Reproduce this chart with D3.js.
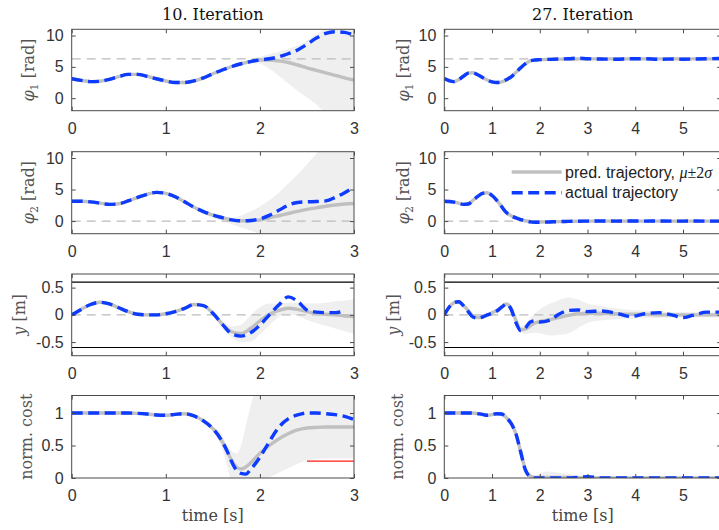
<!DOCTYPE html>
<html><head><meta charset="utf-8">
<script src="https://cdn.jsdelivr.net/npm/d3@7"></script>
<style>body{margin:0;background:#fff} svg{display:block}</style>
</head><body><svg id="c" width="719" height="530"></svg>
<script>
// ---------- time grids ----------
const tL  = [0,0.1,0.2,0.3,0.4,0.5,0.6,0.7,0.8,0.9,1.0,1.1,1.2,1.3,1.4,1.5,1.6,1.7,1.8,1.9,2.0,2.1,2.2,2.3,2.4,2.5,2.6,2.7,2.8,2.9,3.0];
const t4L = [0,0.1,0.2,0.3,0.4,0.5,0.6,0.7,0.8,0.9,1.0,1.1,1.2,1.3,1.4,1.5,1.6,1.65,1.7,1.75,1.8,1.85,1.9,2.0,2.1,2.2,2.3,2.4,2.5,2.6,2.7,2.8,2.9,3.0];
const tR  = [0,0.1,0.2,0.3,0.4,0.5,0.6,0.7,0.8,0.9,1.0,1.1,1.2,1.3,1.4,1.5,1.6,1.7,1.8,1.9,2.0,2.2,2.4,2.6,2.8,3.0,3.3,3.6,3.9,4.2,4.5,4.8,5.0,5.2,5.5,5.8];

// ---------- 10. Iteration ----------
const phi1_10_mean = [3.1,2.85,2.65,2.7,3.0,3.45,3.8,3.8,3.5,3.1,2.75,2.5,2.5,2.75,3.25,3.9,4.5,5.05,5.5,5.85,6.1,6.1,5.95,5.7,5.3,4.85,4.45,4.05,3.65,3.25,2.9];
const phi1_10_act  = [3.1,2.85,2.65,2.7,3.0,3.45,3.8,3.8,3.5,3.1,2.75,2.5,2.5,2.75,3.25,3.9,4.5,5.05,5.5,5.85,6.1,6.3,6.6,7.1,7.7,8.6,9.6,10.35,10.6,10.5,10.05];
const phi1_10_lo   = [2.95,2.7,2.5,2.55,2.85,3.3,3.65,3.65,3.35,2.95,2.6,2.35,2.35,2.6,3.1,3.75,4.35,4.85,5.25,5.55,5.5,4.7,3.6,2.4,1.2,0.1,-1.0,-2.5,-4,-5,-6];
const phi1_10_hi   = [3.25,3.0,2.8,2.85,3.15,3.6,3.95,3.95,3.65,3.25,2.9,2.65,2.65,2.9,3.4,4.05,4.65,5.25,5.75,6.15,6.6,7.0,7.4,7.9,8.4,9.2,10.2,11.2,12,12.5,13];

const phi2_10_mean = [3.15,3.15,3.05,2.85,2.65,2.75,3.2,3.75,4.25,4.55,4.4,3.85,3.05,2.2,1.5,0.95,0.55,0.2,0.05,0.05,0.2,0.5,0.85,1.2,1.55,1.85,2.1,2.35,2.55,2.7,2.8];
const phi2_10_act  = [3.15,3.15,3.05,2.85,2.65,2.75,3.2,3.75,4.25,4.55,4.4,3.85,3.05,2.2,1.5,0.95,0.55,0.2,0.05,0.1,0.35,0.9,1.7,2.5,2.95,3.05,3.1,3.2,3.75,4.5,5.4];
const phi2_10_lo   = [3.0,3.0,2.9,2.7,2.5,2.6,3.05,3.6,4.1,4.4,4.25,3.7,2.9,2.05,1.35,0.5,0.0,-0.5,-1.0,-1.5,-2.1,-3.2,-4.2,-5.2,-6.2,-7,-8,-9,-10,-11,-12];
const phi2_10_hi   = [3.3,3.3,3.2,3.0,2.8,2.9,3.35,3.9,4.4,4.7,4.55,4.0,3.2,2.35,1.65,1.05,0.7,0.5,0.9,1.5,2.3,3.3,4.5,5.9,7.4,9.0,10.7,12.4,14,15.5,17];

const y_10_mean = [0,0.1,0.19,0.23,0.2,0.13,0.06,0.01,0,0,0.02,0.06,0.12,0.19,0.17,0.03,-0.17,-0.31,-0.34,-0.25,-0.11,0.01,0.08,0.12,0.1,0.06,0.03,0.01,0,-0.02,-0.03];
const y_10_act  = [0,0.1,0.19,0.23,0.2,0.13,0.06,0.01,0,0,0.02,0.06,0.12,0.19,0.17,0.03,-0.17,-0.35,-0.39,-0.33,-0.19,0.0,0.18,0.33,0.25,0.09,0.05,0.04,0.04,0.08,null];
const y_10_lo   = [-0.02,0.08,0.17,0.21,0.18,0.11,0.04,-0.01,-0.02,-0.02,0,0.04,0.1,0.17,0.15,0.0,-0.24,-0.41,-0.5,-0.49,-0.36,-0.19,-0.04,0.02,-0.02,-0.09,-0.15,-0.2,-0.25,-0.3,-0.35];
const y_10_hi   = [0.02,0.12,0.21,0.25,0.22,0.15,0.08,0.03,0.02,0.02,0.04,0.08,0.14,0.21,0.19,0.06,-0.1,-0.21,-0.18,-0.01,0.14,0.21,0.2,0.22,0.22,0.21,0.21,0.22,0.25,0.26,0.29];

const cost_10_mean = [1,1,1,1,1,1,1,0.995,0.985,0.97,0.965,0.98,0.99,0.955,0.88,0.76,0.56,0.42,0.27,0.17,0.14,0.17,0.23,0.38,0.5,0.6,0.68,0.74,0.77,0.78,0.785,0.785,0.785,0.785];
const cost_10_act  = [1,1,1,1,1,1,1,0.995,0.985,0.97,0.965,0.98,0.99,0.955,0.88,0.76,0.56,0.42,0.25,0.12,0.07,0.06,0.13,0.32,0.56,0.78,0.91,0.97,1.0,1.0,0.99,0.975,0.95,0.9];
const cost_10_lo   = [0.98,0.98,0.98,0.98,0.98,0.98,0.98,0.975,0.965,0.95,0.945,0.96,0.97,0.935,0.86,0.72,0.45,0.2,-0.05,-0.1,-0.2,-0.2,-0.2,-0.15,0.0,0.08,0.15,0.22,0.27,0.29,0.3,0.3,0.3,0.3];
const cost_10_hi   = [1.02,1.02,1.02,1.02,1.02,1.02,1.02,1.015,1.005,0.99,0.985,1.0,1.01,0.975,0.9,0.8,0.66,0.5,0.42,0.38,0.5,0.8,1.1,1.5,1.5,1.5,1.5,1.5,1.5,1.5,1.5,1.5,1.5,1.5];
const cost_10_limit = [2.5,3.0];
const cost_10_limitVal = 0.26;

// ---------- 27. Iteration ----------
const phi1_27_mean = [3.15,2.8,2.65,2.95,3.5,4.0,4.05,3.75,3.3,2.9,2.6,2.5,2.6,2.95,3.4,4.1,4.85,5.5,5.95,6.1,6.15,6.2,6.23,6.25,6.27,6.28,6.28,6.28,6.28,6.28,6.28,6.28,6.28,6.28,6.28,6.28];
const phi1_27_act  = [3.15,2.8,2.65,2.95,3.5,4.0,4.05,3.75,3.3,2.9,2.6,2.5,2.6,2.95,3.4,4.1,4.85,5.5,5.95,6.1,6.15,6.2,6.25,6.3,6.4,6.3,6.25,6.22,6.3,6.3,6.22,6.25,6.22,6.25,6.3,6.35];

const phi2_27_mean = [3.15,3.1,3.0,2.85,2.65,2.7,3.3,3.9,4.4,4.5,4.05,3.3,2.3,1.35,0.85,0.5,0.25,0.05,-0.1,-0.15,-0.15,-0.12,-0.08,-0.05,-0.03,0,0,0,0,0,0,0,0,0,0,0];
const phi2_27_act  = [3.15,3.1,3.0,2.85,2.65,2.7,3.3,3.9,4.4,4.5,4.05,3.3,2.3,1.35,0.85,0.5,0.25,0.05,-0.12,-0.18,-0.18,-0.14,-0.08,-0.05,-0.02,0,0.02,0,0.01,0,0.01,0,0,0.01,0,0];

const y_27_mean = [0,0.14,0.22,0.24,0.17,0.08,-0.02,-0.05,-0.04,-0.01,0.04,0.08,0.14,0.2,0.12,-0.1,-0.27,-0.26,-0.2,-0.15,-0.12,-0.09,-0.05,-0.01,0.02,0.03,0.03,0.02,0.01,0.01,0,0,0,0,0,0];
const y_27_act  = [0,0.14,0.22,0.24,0.17,0.06,-0.04,-0.06,-0.04,0,0.03,0.07,0.14,0.2,0.1,-0.14,-0.29,-0.24,-0.13,-0.11,-0.13,-0.1,0.01,0.08,0.09,0.06,0.07,0.03,-0.03,0.02,0.04,-0.01,-0.05,-0.01,0.05,0.05];
const y_27_lo   = [-0.01,0.13,0.21,0.23,0.16,0.07,-0.03,-0.06,-0.05,-0.02,0.03,0.07,0.13,0.19,0.11,-0.13,-0.32,-0.35,-0.34,-0.33,-0.34,-0.38,-0.37,-0.34,-0.24,-0.15,-0.1,-0.08,-0.07,-0.06,-0.06,-0.05,-0.05,-0.05,-0.05,-0.05];
const y_27_hi   = [0.01,0.15,0.23,0.25,0.18,0.09,-0.01,-0.04,-0.03,0,0.05,0.09,0.15,0.21,0.13,-0.07,-0.22,-0.17,-0.06,0.03,0.1,0.2,0.27,0.32,0.28,0.21,0.16,0.12,0.09,0.08,0.06,0.05,0.05,0.05,0.05,0.05];

const cost_27_mean = [1,1,1,1,1,1,1,0.99,0.98,0.965,0.975,0.99,0.985,0.93,0.84,0.68,0.4,0.13,0.03,0.01,0.01,0.01,0.01,0.01,0.005,0,0,0,0,0,0,0,0,0,0,0];
const cost_27_act  = [1,1,1,1,1,1,1,0.99,0.98,0.965,0.975,0.99,0.985,0.93,0.84,0.68,0.4,0.12,0.02,0,0,0,0,0,0.01,0.02,0,0,0,0,0,0,0,0,0,0];
const cost_27_lo   = [0.99,0.99,0.99,0.99,0.99,0.99,0.99,0.98,0.97,0.955,0.965,0.98,0.975,0.92,0.83,0.67,0.39,0.12,0.02,0,0,0,0,0,0,0,0,0,0,0,0,0,0,0,0,0];
const cost_27_hi   = [1.01,1.01,1.01,1.01,1.01,1.01,1.01,1.0,0.99,0.975,0.985,1.0,0.995,0.94,0.85,0.69,0.41,0.14,0.04,0.03,0.07,0.1,0.08,0.06,0.04,0.02,0.01,0.01,0.01,0.01,0.01,0.01,0.01,0.01,0.01,0.01];

// ---------- ticks / labels ----------
const xTicksL = [0,1,2,3];
const xTicksR = [0,1,2,3,4,5];
const yTicksPhi = [0,5,10];
const yTicksY = [-0.5,0,0.5];
const yTicksCost = [0,0.5,1];
const yTickLabelsPhi = ["0","5","10"];
const yTickLabelsY = ["-0.5","0","0.5"];
const yTickLabelsCost = ["0","0.5","1"];
const titles = ["10. Iteration","27. Iteration"];
const legendLabels = ["pred. trajectory, ", "actual trajectory"];

// ---------- layout ----------
const svg = d3.select("#c");
const cols = [
  {x0:71.7, x1:354.0, dom:[0,3],   ticks:xTicksL, xl:212.8, tx:212.8, yl:[34,34,25,32]},
  {x0:444.3, x1:721.2, dom:[0,5.8], ticks:xTicksR, xl:582.7, tx:582.7, yl:[409,409,399,403]}
];
const rows = [
  {y0:29.3, y1:110.7, dom:[-2,11], ticks:yTicksPhi, lab:yTickLabelsPhi},
  {y0:151.7, y1:233.7, dom:[-2,11], ticks:yTicksPhi, lab:yTickLabelsPhi},
  {y0:274.0, y1:355.7, dom:[-0.75,0.75], ticks:yTicksY, lab:yTickLabelsY},
  {y0:395.5, y1:478.0, dom:[0,1.27], ticks:yTicksCost, lab:yTickLabelsCost}
];
const panels = [
  {r:0,c:0,t:tL, m:phi1_10_mean, a:phi1_10_act, lo:phi1_10_lo, hi:phi1_10_hi, ref:[2*Math.PI]},
  {r:1,c:0,t:tL, m:phi2_10_mean, a:phi2_10_act, lo:phi2_10_lo, hi:phi2_10_hi, ref:[0]},
  {r:2,c:0,t:tL, m:y_10_mean, a:y_10_act, lo:y_10_lo, hi:y_10_hi, ref:[0], lim:[-0.6,0.6]},
  {r:3,c:0,t:t4L, m:cost_10_mean, a:cost_10_act, lo:cost_10_lo, hi:cost_10_hi, ref:[], red:true},
  {r:0,c:1,t:tR, m:phi1_27_mean, a:phi1_27_act, ref:[2*Math.PI]},
  {r:1,c:1,t:tR, m:phi2_27_mean, a:phi2_27_act, ref:[0], legend:true},
  {r:2,c:1,t:tR, m:y_27_mean, a:y_27_act, lo:y_27_lo, hi:y_27_hi, ref:[0], lim:[-0.6,0.6]},
  {r:3,c:1,t:tR, m:cost_27_mean, a:cost_27_act, lo:cost_27_lo, hi:cost_27_hi, ref:[]}
];

const BLUE = "#0d3bff", GRAYL = "#c0c0c0", BAND = "#efefef", AX = "#4a4a4a";
const SANS = "'Liberation Sans', Arial, sans-serif";
const SERIF = "'DejaVu Serif', serif";
const MATH = "'Liberation Serif', serif";

panels.forEach((p, i) => {
  const col = cols[p.c], row = rows[p.r];
  const x = d3.scaleLinear().domain(col.dom).range([col.x0, col.x1]);
  const y = d3.scaleLinear().domain(row.dom).range([row.y1, row.y0]);
  const g = svg.append("g");
  const cid = "clip" + i;
  svg.append("clipPath").attr("id", cid).append("rect")
    .attr("x", col.x0).attr("y", row.y0).attr("width", col.x1 - col.x0).attr("height", row.y1 - row.y0);
  const pg = g.append("g").attr("clip-path", `url(#${cid})`);
  const data = p.t.map((t, k) => ({t, m:p.m[k], a:p.a[k], lo:p.lo ? p.lo[k] : null, hi:p.hi ? p.hi[k] : null}));

  if (p.lo) {
    pg.append("path").datum(data)
      .attr("fill", BAND).attr("stroke", "none")
      .attr("d", d3.area().curve(d3.curveMonotoneX).x(d => x(d.t)).y0(d => y(d.lo)).y1(d => y(d.hi)));
  }
  p.ref.forEach(v => {
    pg.append("line").attr("x1", col.x0).attr("x2", col.x1).attr("y1", y(v)).attr("y2", y(v))
      .attr("stroke", "#bcbcbc").attr("stroke-width", 1.2).attr("stroke-dasharray", "9,6");
  });
  if (p.lim) {
    p.lim.forEach(v => {
      pg.append("line").attr("x1", col.x0).attr("x2", col.x1).attr("y1", y(v)).attr("y2", y(v))
        .attr("stroke", "#000").attr("stroke-width", 1.1);
    });
  }
  pg.append("path").datum(data)
    .attr("fill", "none").attr("stroke", GRAYL).attr("stroke-width", 3.4)
    .attr("d", d3.line().curve(d3.curveMonotoneX).x(d => x(d.t)).y(d => y(d.m)));
  pg.append("path").datum(data)
    .attr("fill", "none").attr("stroke", BLUE).attr("stroke-width", 3.4)
    .attr("stroke-dasharray", "11,5.5")
    .attr("d", d3.line().defined(d => d.a != null).curve(d3.curveMonotoneX).x(d => x(d.t)).y(d => y(d.a)));
  if (p.red) {
    pg.append("line").attr("x1", x(cost_10_limit[0])).attr("x2", x(cost_10_limit[1]))
      .attr("y1", y(cost_10_limitVal)).attr("y2", y(cost_10_limitVal))
      .attr("stroke", "#ff1a1a").attr("stroke-width", 1.3);
  }

  // axes
  const fmtY = v => row.lab[row.ticks.indexOf(v)];
  const axB = g.append("g").attr("transform", `translate(0,${row.y1})`)
    .call(d3.axisBottom(x).tickValues(col.ticks).tickSizeInner(-4).tickSizeOuter(0).tickPadding(11.6).tickFormat(d3.format("d")));
  const axT = g.append("g").attr("transform", `translate(0,${row.y0})`)
    .call(d3.axisTop(x).tickValues(col.ticks).tickSizeInner(-4).tickSizeOuter(0).tickFormat(""));
  const axL = g.append("g").attr("transform", `translate(${col.x0},0)`)
    .call(d3.axisLeft(y).tickValues(row.ticks).tickSizeInner(-4).tickSizeOuter(0).tickPadding(8).tickFormat(fmtY));
  const axR = g.append("g").attr("transform", `translate(${col.x1},0)`)
    .call(d3.axisRight(y).tickValues(row.ticks).tickSizeInner(-4).tickSizeOuter(0).tickFormat(""));
  [axB, axT, axL, axR].forEach(a => {
    a.select(".domain").remove();
    a.selectAll("line").attr("stroke", AX);
    a.selectAll("text").attr("fill", "#333").style("font-family", SANS).style("font-size", "16px");
  });
  g.append("rect").attr("x", col.x0).attr("y", row.y0).attr("width", col.x1 - col.x0).attr("height", row.y1 - row.y0)
    .attr("fill", "none").attr("stroke", AX).attr("stroke-width", 1);

  // y label
  const ym = (row.y0 + row.y1) / 2;
  const yl = g.append("text").attr("transform", `translate(${col.yl[p.r]},${ym}) rotate(-90)`)
    .attr("text-anchor", "middle").attr("fill", "#555").style("font-family", SERIF).style("font-size", "16px");
  if (p.r < 2) {
    yl.append("tspan").attr("font-style", "italic").text("φ");
    yl.append("tspan").attr("dy", 4).style("font-size", "11px").text(String(p.r + 1));
    yl.append("tspan").attr("dy", -4).text(" [rad]");
  } else if (p.r === 2) {
    yl.append("tspan").attr("font-style", "italic").text("y");
    yl.append("tspan").text(" [m]");
  } else {
    yl.text("norm. cost");
  }
  if (p.r === 0) {
    g.append("text").attr("x", col.tx).attr("y", 19.5).attr("text-anchor", "middle")
      .attr("fill", "#111").style("font-family", SERIF).style("font-size", "16px").text(titles[p.c]);
  }
  if (p.r === 3) {
    g.append("text").attr("x", col.xl).attr("y", 521).attr("text-anchor", "middle")
      .attr("fill", "#444").style("font-family", SERIF).style("font-size", "16px").text("time [s]");
  }
  if (p.legend) {
    const lx0 = 511.7, lx1 = 561.7, ly1 = 172, ly2 = 192.7;
    g.append("line").attr("x1", lx0).attr("x2", lx1).attr("y1", ly1).attr("y2", ly1)
      .attr("stroke", GRAYL).attr("stroke-width", 3.4);
    g.append("line").attr("x1", lx0).attr("x2", lx1).attr("y1", ly2).attr("y2", ly2)
      .attr("stroke", BLUE).attr("stroke-width", 3.4).attr("stroke-dasharray", "11,5.5");
    const t1 = g.append("text").attr("x", 565).attr("y", ly1 + 5.5).attr("fill", "#222")
      .style("font-family", SANS).style("font-size", "16px");
    t1.append("tspan").text(legendLabels[0]);
    t1.append("tspan").style("font-family", MATH).attr("font-style", "italic").text("μ");
    t1.append("tspan").style("font-family", MATH).text("±2");
    t1.append("tspan").style("font-family", MATH).attr("font-style", "italic").text("σ");
    g.append("text").attr("x", 565).attr("y", ly2 + 5.5).attr("fill", "#222")
      .style("font-family", SANS).style("font-size", "16px").text(legendLabels[1]);
  }
});
</script></body></html>
